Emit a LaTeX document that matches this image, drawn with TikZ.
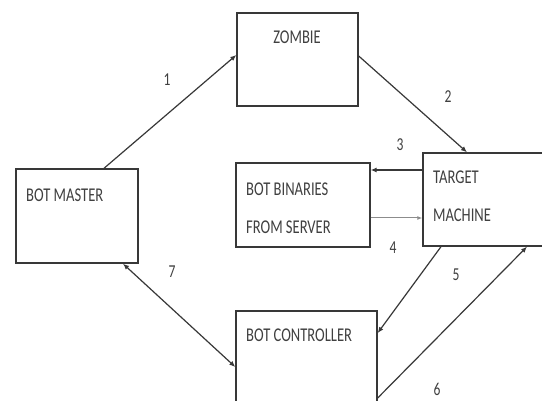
\documentclass[tikz,border=0pt]{standalone}
\usepackage{fontspec}
\setmainfont{Carlito}
\usetikzlibrary{arrows.meta,calc}
\newcommand{\tallt}[1]{\scalebox{0.97}[1.3]{#1}}
\begin{document}
\begin{tikzpicture}[x=1pt,y=-1pt,
  box/.style={draw=black!78,line width=1.4pt,rectangle,inner sep=0pt},
  lbl/.style={font=\fontsize{15}{17}\selectfont,inner sep=0pt,anchor=west,text=black!75},
  num/.style={font=\fontsize{14}{16}\selectfont,inner sep=0pt,text=black!75},
  conn/.style={draw=black!78,line width=1.2pt,-{Latex[length=6pt,width=5pt]}},
  conn4/.style={draw=black!45,line width=1pt,-{Latex[length=5pt,width=4pt]}}]
\useasboundingbox (0,0) rectangle (542,401);
\fill[white] (0,0) rectangle (542,401);
% boxes
\node[box,minimum width=122pt,minimum height=94pt] (bm) at (77,216) {};
\node[box,minimum width=121pt,minimum height=93pt] (zombie) at (297.5,59.5) {};
\node[box,minimum width=134pt,minimum height=84pt] (bin) at (303,205) {};
\node[box,minimum width=137pt,minimum height=93pt] (target) at (491.5,199.5) {};
\node[box,minimum width=141pt,minimum height=109pt] (ctrl) at (306.5,365.5) {};
% texts
\node[lbl,anchor=center] (tz) at (297,37) {\tallt{ZOMBIE}};
\node[lbl] (tbm) at (26,195) {\tallt{BOT MASTER}};
\node[lbl] (tb1) at (246,189) {\tallt{BOT BINARIES}};
\node[lbl] (tb2) at (246,227) {\tallt{FROM SERVER}};
\node[lbl] (tt1) at (433,177) {\tallt{TARGET}};
\node[lbl] (tt2) at (433,215) {\tallt{MACHINE}};
\node[lbl] (tc) at (246,335) {\tallt{BOT CONTROLLER}};
% connectors
\draw[conn] ([xshift=27pt]bm.north) -- ([yshift=4.5pt]zombie.west);
\draw[conn] ([yshift=3.5pt]zombie.east) -- ([xshift=-24.5pt]target.north);
\draw[conn] ([yshift=29.5pt]target.west) -- ([yshift=29.5pt]target.west -| bin.east);
\draw[conn4] ([yshift=-13pt]bin.east) -- ([yshift=-13pt]bin.east -| target.west);
\draw[conn] ([xshift=-50.5pt]target.south) -- ([yshift=32.5pt]ctrl.east);
\draw[conn] ([yshift=-32.5pt]ctrl.east) -- ([xshift=35.5pt]target.south);
\draw[conn,{Latex[length=6pt,width=5pt]}-{Latex[length=6pt,width=5pt]}] ([xshift=46pt]bm.south) -- ([yshift=-1.5pt]ctrl.west);
% numbers
\node[num] (n1) at (167,80) {\tallt{1}};
\node[num] (n2) at (448,97) {\tallt{2}};
\node[num] (n3) at (400,145) {\tallt{3}};
\node[num] (n4) at (393,248) {\tallt{4}};
\node[num] (n5) at (456,275) {\tallt{5}};
\node[num] (n6) at (437,389) {\tallt{6}};
\node[num] (n7) at (172,272) {\tallt{7}};
\end{tikzpicture}
\end{document}
